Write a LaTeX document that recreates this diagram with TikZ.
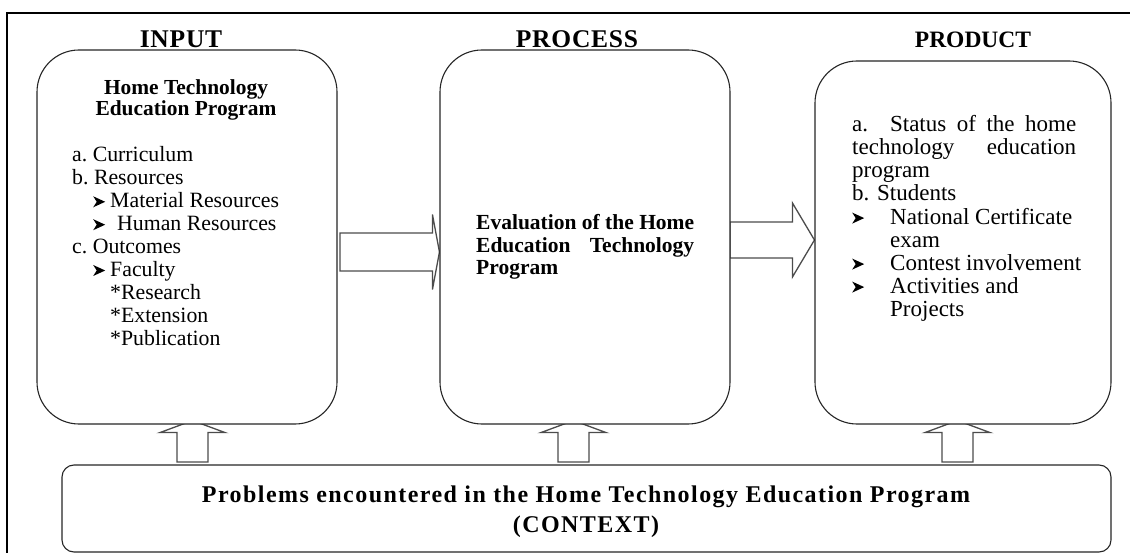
\documentclass[tikz,border=0pt]{standalone}
\usepackage{fontspec}
\setmainfont{Liberation Serif}
\newfontfamily\titlefont[LetterSpace=3]{Liberation Serif}
\newfontfamily\spacedfont[LetterSpace=6]{Liberation Serif}
\usetikzlibrary{calc,backgrounds}

% notched arrowhead bullet
\newcommand\bul{\tikz[x=1pt,y=1pt,baseline=0pt]
  \fill[black] (0,0.5) -- (12,6) -- (0,11.5) -- (3.5,6) -- cycle;}

\tikzset{
  frameline/.style={line width=1.3pt, draw=black},
  panel/.style={draw=black!85, line width=1.1pt, rounded corners=42pt,
    fill=white, inner sep=0pt},
  ctxbox/.style={panel, rounded corners=12pt},
  blockarr/.style={draw=black!70, line width=1.3pt, fill=white, line join=miter},
  title/.style={anchor=base, inner sep=0pt,
    font=\titlefont\bfseries\fontsize{25.5}{25.5}\selectfont},
  textblock/.style={inner sep=0pt},
  % upward block arrow: body half width 15.5, head half width 32.5
  uparr/.style={blockarr, to path={
    let \p1=(\tikztostart), \p2=(\tikztotarget) in
    (\x1-15.5pt,\y1+3pt) -- (\x1-15.5pt,\y2-8pt) -- (\x1-32.5pt,\y2-8pt)
    -- (\x1,\y2+4pt) -- (\x1+32.5pt,\y2-8pt) -- (\x1+15.5pt,\y2-8pt)
    -- (\x1+15.5pt,\y1+3pt) -- cycle}},
  % rightward block arrow: #1 body half height, #2 head half height, #3 head length
  rarr/.style n args={3}{blockarr, to path={
    let \p1=(\tikztostart), \p2=(\tikztotarget) in
    (\x1,\y1+#1) -- (\x2-#3,\y1+#1) -- (\x2-#3,\y1+#2) -- (\x2,\y1)
    -- (\x2-#3,\y1-#2) -- (\x2-#3,\y1-#1) -- (\x1,\y1-#1) -- cycle}}
}

\begin{document}
\begin{tikzpicture}[x=1pt,y=-1pt]
\useasboundingbox (0,0) rectangle (1130,553);

% page frame (top and left edges)
\coordinate (fbl) at (7,553);
\coordinate (ftl) at (7,13);
\coordinate (ftr) at (1130,13);
\draw[frameline] (fbl) -- (ftl) -- (ftr);

% titles
\node[title] (tin) at (181,48) {INPUT};
\node[title] (tproc) at (577,48) {PROCESS};
\node[anchor=base, inner sep=0pt, font=\bfseries\fontsize{23.5}{23.5}\selectfont]
  (tprod) at (973,48) {PRODUCT};

% the three panels and the context box
\node[panel, minimum width=300pt, minimum height=374pt] (inbox) at (187,237) {};
\node[panel, minimum width=290pt, minimum height=374pt] (procbox) at (585,237) {};
\node[panel, minimum width=296pt, minimum height=363pt] (prodbox) at (963,242.5) {};
\node[ctxbox, minimum width=1049pt, minimum height=87pt] (ctx) at (586.5,508.5) {};

% block arrows behind the panels
\coordinate (u1) at (192.5,465);
\coordinate (u2) at (573.5,465);
\coordinate (u3) at (957.5,465);
\coordinate (a1) at (340,252);
\coordinate (a2) at (730,240);
\begin{scope}[on background layer]
  \draw[uparr] (u1) to (inbox.south -| u1);
  \draw[uparr] (u2) to (procbox.south -| u2);
  \draw[uparr] (u3) to (prodbox.south -| u3);
  \draw[rarr={19pt}{37.5pt}{7pt}] (a1) to (procbox.west |- a1);
  \draw[rarr={18pt}{37pt}{22pt}] (a2) to (prodbox.west |- a2);
\end{scope}

% input panel contents
\node[textblock, anchor=base, font=\bfseries\fontsize{21.4}{20.5}\selectfont]
  (inhead) at (186,95)
  {\begin{tabular}[t]{@{}c@{}}Home Technology\\Education Program\end{tabular}};
\node[textblock, anchor=base west, font=\fontsize{21.8}{22.9}\selectfont]
  (inlist) at (72,162)
  {\begin{tabular}[t]{@{}l@{}}
   a.\ Curriculum\\
   b.\ Resources\\
   \hspace*{21pt}\makebox[17pt][l]{\bul}Material Resources\\
   \hspace*{21pt}\makebox[24pt][l]{\bul}Human Resources\\
   c.\ Outcomes\\
   \hspace*{21pt}\makebox[17pt][l]{\bul}Faculty\\
   \hspace*{38pt}*Research\\
   \hspace*{38pt}*Extension\\
   \hspace*{38pt}*Publication
   \end{tabular}};

% process panel contents
\node[textblock, anchor=base west, font=\bfseries\fontsize{21.5}{22.5}\selectfont]
  (proctext) at (476,230)
  {\begin{tabular}[t]{@{}l@{}}
   Evaluation of the Home\\
   \makebox[218pt][s]{Education Technology}\\
   Program
   \end{tabular}};

% product panel contents
\node[textblock, anchor=base west, font=\fontsize{23}{23}\selectfont]
  (prodtext) at (852,132)
  {\begin{tabular}[t]{@{}l@{}}
   \makebox[224pt][s]{a. Status of the home}\\
   \makebox[224pt][s]{technology education}\\
   program\\
   b. Students\\
   \makebox[38pt][l]{\bul}National Certificate\\
   \hspace*{38pt}exam\\
   \makebox[38pt][l]{\bul}Contest involvement\\
   \makebox[38pt][l]{\bul}Activities and\\
   \hspace*{38pt}Projects
   \end{tabular}};

% context text
\node[textblock, anchor=base, font=\spacedfont\bfseries\fontsize{24}{30}\selectfont]
  (ctxtext) at (586,502)
  {\begin{tabular}[t]{@{}c@{}}
   Problems encountered in the Home Technology Education Program\\
   (CONTEXT)
   \end{tabular}};
\end{tikzpicture}
\end{document}
